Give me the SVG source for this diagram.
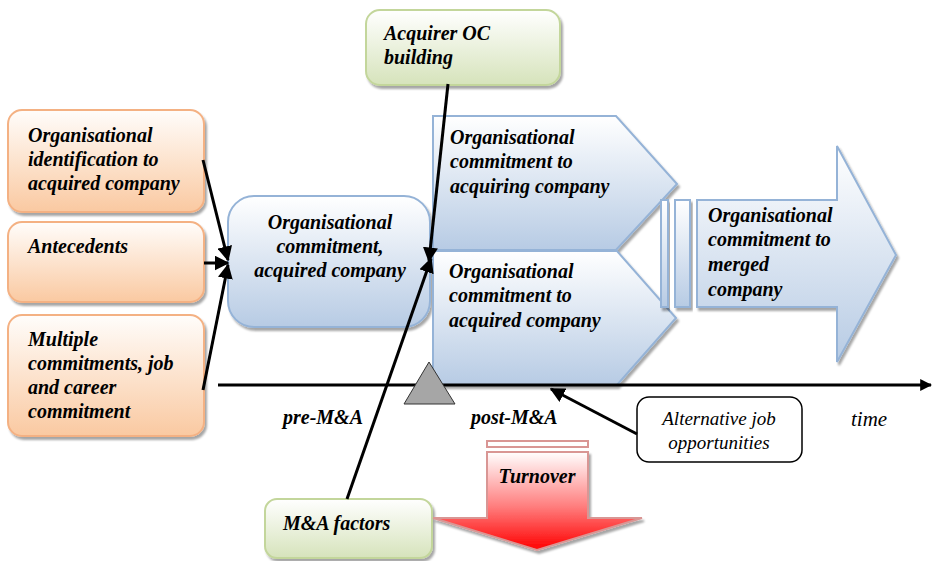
<svg xmlns="http://www.w3.org/2000/svg" width="933" height="561" viewBox="0 0 933 561">
  <defs>
    <linearGradient id="gOrange" x1="0" y1="0" x2="0" y2="1">
      <stop offset="0" stop-color="#fffdfb"/>
      <stop offset="1" stop-color="#fac9a1"/>
    </linearGradient>
    <linearGradient id="gBlue" x1="0" y1="0" x2="0" y2="1">
      <stop offset="0" stop-color="#ffffff"/>
      <stop offset="1" stop-color="#b7cbe4"/>
    </linearGradient>
    <linearGradient id="gGreen" x1="0" y1="0" x2="0" y2="1">
      <stop offset="0" stop-color="#ffffff"/>
      <stop offset="1" stop-color="#d6e3bb"/>
    </linearGradient>
    <linearGradient id="gRed" x1="0" y1="0" x2="0" y2="1">
      <stop offset="0" stop-color="#ffffff"/>
      <stop offset="0.55" stop-color="#ff7f7f"/>
      <stop offset="1" stop-color="#ff0000"/>
    </linearGradient>
    <filter id="shadow" x="-10%" y="-10%" width="130%" height="130%">
      <feDropShadow dx="2" dy="3" stdDeviation="1" flood-color="#000" flood-opacity="0.35"/>
    </filter>
    <marker id="arrow" viewBox="0 0 10 10" refX="9" refY="5" markerWidth="5" markerHeight="5" orient="auto" markerUnits="strokeWidth">
      <path d="M0,0 L10,5 L0,10 z" fill="#000"/>
    </marker>
    <marker id="axisHead" viewBox="0 0 10 10" refX="9" refY="5" markerWidth="4" markerHeight="4" orient="auto" markerUnits="strokeWidth">
      <path d="M0,0 L10,5 L0,10 z" fill="#000"/>
    </marker>
  </defs>
  <style>
    .orange { fill: url(#gOrange); stroke: #f4b183; stroke-width: 2; filter: url(#shadow); }
    .blue { fill: url(#gBlue); stroke: #95b3d7; stroke-width: 2; filter: url(#shadow); }
    .green { fill: url(#gGreen); stroke: #c3d69b; stroke-width: 2; filter: url(#shadow); }
    .red { fill: url(#gRed); stroke: #d99694; stroke-width: 2; filter: url(#shadow); }
    .bar { fill: #fff; stroke: #d99694; stroke-width: 2; }
    text { font-family: "Liberation Serif", "Times New Roman", "DejaVu Serif", serif; fill: #000; }
    .lbl { font-weight: bold; font-style: italic; font-size: 20px; }
    .plain { font-style: italic; font-size: 19px; }
    .conn { stroke: #000; stroke-width: 3; fill: none; }
  </style>

  <rect width="933" height="561" fill="#fff"/>

  <!-- Orange antecedent boxes -->
  <g id="node-identification">
    <rect class="orange" x="8" y="110" width="196" height="102" rx="14"/>
    <text class="lbl" x="28" y="142">Organisational</text>
    <text class="lbl" x="28" y="166">identification to</text>
    <text class="lbl" x="28" y="190">acquired company</text>
  </g>
  <g id="node-antecedents">
    <rect class="orange" x="8" y="222" width="196" height="80" rx="14"/>
    <text class="lbl" x="28" y="253">Antecedents</text>
  </g>
  <g id="node-multiple">
    <rect class="orange" x="8" y="315" width="196" height="121" rx="14"/>
    <text class="lbl" x="28" y="346">Multiple</text>
    <text class="lbl" x="28" y="370">commitments, job</text>
    <text class="lbl" x="28" y="394">and career</text>
    <text class="lbl" x="28" y="418">commitment</text>
  </g>

  <!-- Pre-merger commitment -->
  <g id="node-commitment-acquired">
    <rect class="blue" x="228" y="196" width="202" height="131" rx="26"/>
    <text class="lbl" x="330" y="229" text-anchor="middle">Organisational</text>
    <text class="lbl" x="330" y="253" text-anchor="middle">commitment,</text>
    <text class="lbl" x="330" y="277" text-anchor="middle">acquired company</text>
  </g>

  <!-- Post-merger commitments -->
  <g id="node-commitment-acquiring">
    <path class="blue" d="M433,116 L616,116 L677,184 L616,250 L433,250 Z"/>
    <text class="lbl" x="450" y="144">Organisational</text>
    <text class="lbl" x="450" y="168">commitment to</text>
    <text class="lbl" x="450" y="193">acquiring company</text>
  </g>
  <g id="node-commitment-acquired-post">
    <path class="blue" d="M433,251 L617,251 L676,318 L617,385 L433,385 Z"/>
    <text class="lbl" x="449" y="278">Organisational</text>
    <text class="lbl" x="449" y="302">commitment to</text>
    <text class="lbl" x="449" y="327">acquired company</text>
  </g>

  <!-- Transition bars and merged commitment arrow -->
  <g id="node-transition">
    <rect class="blue" x="661" y="200" width="7" height="107"/>
    <rect class="blue" x="675" y="200" width="15" height="107"/>
  </g>
  <g id="node-merged">
    <path class="blue" d="M697,200 L837,200 L837,146 L896,255 L837,362 L837,307 L697,307 Z"/>
    <text class="lbl" x="708" y="222">Organisational</text>
    <text class="lbl" x="708" y="246">commitment to</text>
    <text class="lbl" x="708" y="271">merged</text>
    <text class="lbl" x="708" y="296">company</text>
  </g>

  <!-- Green influence boxes -->
  <g id="node-acquirer-oc">
    <rect class="green" x="366" y="10" width="194" height="75" rx="14"/>
    <text class="lbl" x="384" y="40">Acquirer OC</text>
    <text class="lbl" x="384" y="64">building</text>
  </g>
  <g id="node-ma-factors">
    <rect class="green" x="265" y="499" width="167" height="59" rx="12"/>
    <text class="lbl" x="283" y="530">M&amp;A factors</text>
  </g>

  <!-- Turnover arrow -->
  <g id="node-turnover">
    <rect class="bar" x="487" y="441" width="101" height="6"/>
    <path class="red" d="M487,452 L588,452 L588,518 L642,518 L537,550 L433,518 L487,518 Z"/>
    <text class="lbl" x="537" y="483" text-anchor="middle">Turnover</text>
  </g>

  <!-- Alternative job opportunities -->
  <g id="node-alternative">
    <rect x="637" y="397" width="165" height="65" rx="12" fill="#fff" stroke="#000" stroke-width="1.5"/>
    <text class="plain" x="719" y="425" text-anchor="middle">Alternative job</text>
    <text class="plain" x="719" y="449" text-anchor="middle">opportunities</text>
  </g>

  <!-- Time axis and milestone -->
  <g id="node-axis">
    <line x1="218" y1="385" x2="931" y2="385" stroke="#000" stroke-width="3" marker-end="url(#axisHead)"/>
    <path d="M429,362 L455,404 L404,404 Z" fill="#a6a6a6" stroke="#333" stroke-width="1"/>
    <text class="lbl" x="283" y="424">pre-M&amp;A</text>
    <text class="lbl" x="471" y="424">post-M&amp;A</text>
    <text x="851" y="426" font-style="italic" font-size="21">time</text>
  </g>

  <!-- Connectors -->
  <g id="connectors">
    <line class="conn" x1="203" y1="160" x2="228" y2="260" marker-end="url(#arrow)"/>
    <line class="conn" x1="204" y1="263" x2="228" y2="263" marker-end="url(#arrow)"/>
    <line class="conn" x1="203" y1="390" x2="228" y2="265" marker-end="url(#arrow)"/>
    <line class="conn" x1="448" y1="84" x2="429" y2="261" marker-end="url(#arrow)"/>
    <line class="conn" x1="347" y1="499" x2="431" y2="259" marker-end="url(#arrow)"/>
    <line class="conn" x1="637" y1="434" x2="551" y2="389" marker-end="url(#arrow)"/>
  </g>
</svg>
